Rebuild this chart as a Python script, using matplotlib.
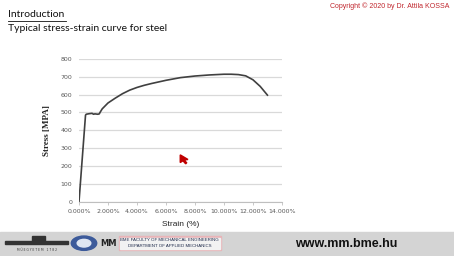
import matplotlib.pyplot as plt
from matplotlib.patches import Rectangle, Polygon, Circle
from matplotlib.ticker import FuncFormatter

# stress-strain curve
strain = [0.0, 0.45, 0.5, 0.7, 0.9, 1.0, 1.1, 1.3, 1.4, 1.45, 1.6, 2.0, 2.5,
          3.0, 3.5, 4.0, 4.5, 5.0, 6.0, 7.0, 8.0, 9.0, 10.0, 10.5, 11.0,
          11.5, 12.0, 12.5, 13.0]
stress = [0, 485, 490, 493, 495, 490, 492, 490, 492, 500, 520, 553, 580,
          605, 625, 640, 652, 662, 680, 695, 704, 710, 714, 714, 712,
          705, 683, 646, 597]

xticks = [0, 2, 4, 6, 8, 10, 12, 14]
yticks = [0, 100, 200, 300, 400, 500, 600, 700, 800]

fig = plt.figure(figsize=(4.54, 2.56), dpi=100)
fig.patch.set_facecolor('white')

ax = fig.add_axes([0.174, 0.212, 0.447, 0.558])
ax.plot(strain, stress, color='#404040', lw=1.2)
ax.set_xlim(0, 14)
ax.set_ylim(0, 800)
ax.set_xticks(xticks)
ax.set_yticks(yticks)
ax.xaxis.set_major_formatter(FuncFormatter(lambda v, p: '%.3f%%' % v))
ax.grid(axis='y', color='#d9d9d9', lw=0.9)
ax.set_axisbelow(True)
for s in ['top', 'right', 'left']:
    ax.spines[s].set_visible(False)
ax.spines['bottom'].set_color('#bfbfbf')
ax.spines['bottom'].set_linewidth(0.8)
ax.tick_params(axis='x', length=2, width=0.6, color='#bfbfbf', labelsize=4.5,
               labelcolor='#595959', pad=3)
ax.tick_params(axis='y', length=0, labelsize=4.5, labelcolor='#595959', pad=5)
ax.set_xlabel('Strain (%)', fontsize=6, color='#222222', labelpad=5,
              family='Liberation Sans')
ax.set_ylabel('Stress [MPA]', fontsize=6.5, fontweight='bold', color='#222222',
              family='Liberation Serif', labelpad=7)

# slide header
fig.text(0.018, 0.942, 'Introduction', fontsize=7.5, family='Lato',
         va='center', color='#111111')
fig.add_artist(plt.Line2D([0.018, 0.146], [0.918, 0.918], color='#111111', lw=0.6))
fig.text(0.018, 0.888, 'Typical stress-strain curve for steel', fontsize=7.5,
         family='Lato', va='center', color='#111111')
fig.text(0.99, 0.975, 'Copyright \u00a9 2020 by Dr. Attila KOSSA', fontsize=5,
         family='Liberation Sans', color='#c0262d', ha='right', va='center')

# mouse cursor
fig.add_artist(Polygon([(0.397, 0.395), (0.397, 0.365), (0.403, 0.372),
                        (0.409, 0.360), (0.411, 0.364), (0.406, 0.375),
                        (0.414, 0.377)], closed=True, color='#c00000'))

# footer bar
fig.add_artist(Rectangle((0, 0), 1, 0.094, transform=fig.transFigure,
                         color='#d4d4d4', zorder=0))
# building logo
fig.add_artist(Rectangle((0.012, 0.046), 0.138, 0.012, color='#333333'))
fig.add_artist(Rectangle((0.07, 0.058), 0.03, 0.02, color='#333333'))
fig.text(0.081, 0.025, 'M Ű E G Y E T E M   1 7 8 2', fontsize=2.2,
         ha='center', va='center', color='#333333')
# round logo
fig.add_artist(Circle((0.185, 0.05), 0.028, transform=fig.transFigure,
                      color='#3c5a9a'))
fig.add_artist(Circle((0.185, 0.05), 0.015, transform=fig.transFigure,
                      color='#dfe6f2'))
# MM logo
fig.text(0.238, 0.05, 'MM', fontsize=6, fontweight='bold', ha='center',
         va='center', color='#222222')
fig.add_artist(Rectangle((0.262, 0.022), 0.225, 0.056, color='#e8b4b8', zorder=0.5))
fig.add_artist(Rectangle((0.264, 0.028), 0.221, 0.044, color='#f2f2f2', zorder=0.6))
fig.text(0.374, 0.062, 'BME FACULTY OF MECHANICAL ENGINEERING', fontsize=3.2,
         ha='center', va='center', color='#1e2a4a', family='Liberation Sans')
fig.text(0.374, 0.038, 'DEPARTMENT OF APPLIED MECHANICS', fontsize=3.2,
         ha='center', va='center', color='#1e2a4a', family='Liberation Sans')
fig.text(0.762, 0.048, 'www.mm.bme.hu', fontsize=9, fontweight='bold',
         ha='center', va='center', color='#111111', family='Liberation Sans')

fig.savefig('out.png', dpi=100)
